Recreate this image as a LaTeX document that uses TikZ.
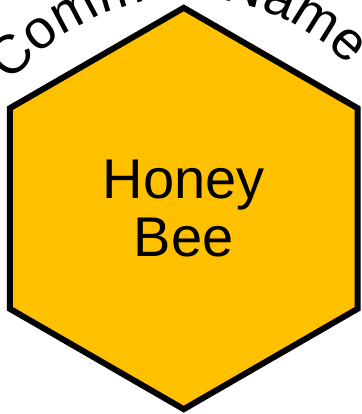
\documentclass[tikz,border=0pt]{standalone}
\usepackage{fontspec}
\setmainfont{Liberation Sans}
\usepackage{xcolor}
\usetikzlibrary{
shapes.geometric,
decorations.text
}
\definecolor{honey}{RGB}{255,192,0}

\begin{document}
\begin{tikzpicture}[
x=0.75pt,
y=0.75pt,
hexbox/.style={
draw,
line width=4.5pt,
fill=honey,
regular polygon,
regular polygon sides=6,
shape border rotate=30,
minimum size=301pt,
inner sep=0pt,
align=center,
font=\fontsize{42}{43.5}\selectfont
},
arctext/.style={
decorate,
decoration={
text along path,
text align=center,
text={|\fontsize{41}{41}\selectfont|Common Name}
}
}
]

\useasboundingbox (0,0) rectangle (361,414);

\coordinate (center) at (183.75,205.5);
\coordinate (arcmid) at (188,190);

% curved label sits behind the hexagon
\path[arctext] ([shift={(163:226)}]arcmid) arc[start angle=163, end angle=23, radius=226];

\node[hexbox] (bee) at (center) {
Honey\\
Bee
};

\end{tikzpicture}
\end{document}
